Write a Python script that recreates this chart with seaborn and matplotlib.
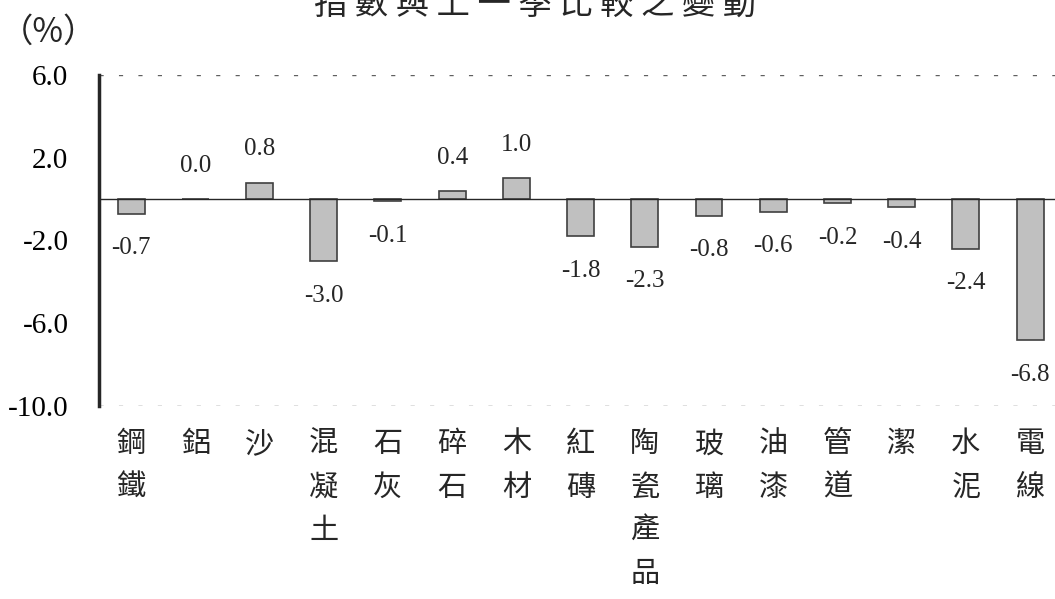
import matplotlib
matplotlib.use("Agg")
import numpy as np
import pandas as pd
import matplotlib.pyplot as plt
import seaborn as sns

# --- data
categories = ["鋼鐵", "鋁", "沙", "混凝土", "石灰", "碎石", "木材", "紅磚",
              "陶瓷產品", "玻璃", "油漆", "管道", "潔", "水泥", "電線"]
values = [-0.7, 0.0, 0.8, -3.0, -0.1, 0.4, 1.0, -1.8, -2.3, -0.8, -0.6, -0.2, -0.4, -2.4, -6.8]
y_ticks = [6.0, 2.0, -2.0, -6.0, -10.0]
title = "指數與上一季比較之變動"
unit = "（%）"

sns.set_style("white")
CJK = ["Noto Sans CJK TC", "DejaVu Sans"]
NUM = ["Liberation Serif", "DejaVu Serif"]
plt.rcParams["font.family"] = CJK

df = pd.DataFrame({"cat": categories, "val": values})

fig = plt.figure(figsize=(10.55, 5.99), dpi=100)
ax = fig.add_axes([0.0938, 0.3222, 0.913, 0.5526])

sns.barplot(data=df, x="cat", y="val", order=categories, color="#C0C0C0",
            saturation=1, edgecolor="#404040", linewidth=1.2, width=0.42, ax=ax)

ax.set_xlim(-0.5, len(categories) - 0.5)
ax.set_ylim(-10, 6)
ax.set_xlabel("")
ax.set_ylabel("")

# y axis: thick spine, inward ticks
ax.set_yticks(y_ticks)
ax.set_yticklabels([f"{t:.1f}" for t in y_ticks], family=NUM, fontsize=21)
ax.tick_params(axis="y", direction="in", length=9, width=2.5, pad=22, colors="black")

# x axis sits on zero line, small ticks between categories
ax.spines["top"].set_visible(False)
ax.spines["right"].set_visible(False)
ax.spines["left"].set_linewidth(2.5)
ax.spines["bottom"].set_position(("data", 0))
ax.spines["bottom"].set_linewidth(1)
ax.set_xticks([])
ax.set_xticks(np.arange(len(categories) - 1) + 0.5, minor=True)
ax.tick_params(axis="x", which="minor", direction="in", length=8, width=1)

# dotted top/bottom lines
for t in (y_ticks[0], y_ticks[-1]):
    ax.axhline(t, color="#606060", lw=1, ls=(0, (3, 11)), zorder=0)

# value labels
for i, v in enumerate(values):
    ax.annotate(f"{v:.1f}", (i, v), xytext=(0, 24 if v >= 0 else -25),
                textcoords="offset points", ha="center", va="center",
                fontsize=18, family=NUM)

# vertical category labels
for i, c in enumerate(categories):
    ax.text(i, -0.07, "\n".join(c), transform=ax.get_xaxis_transform(),
            ha="center", va="top", fontsize=21, linespacing=1.58, family=CJK)

fig.text(0.507, 1 - 4 / 599, " ".join(title), ha="center", va="center", fontsize=24)
fig.text(0.0, 1 - 32 / 599, unit, ha="left", va="center", fontsize=24)

fig.savefig("out.png", dpi=100)
